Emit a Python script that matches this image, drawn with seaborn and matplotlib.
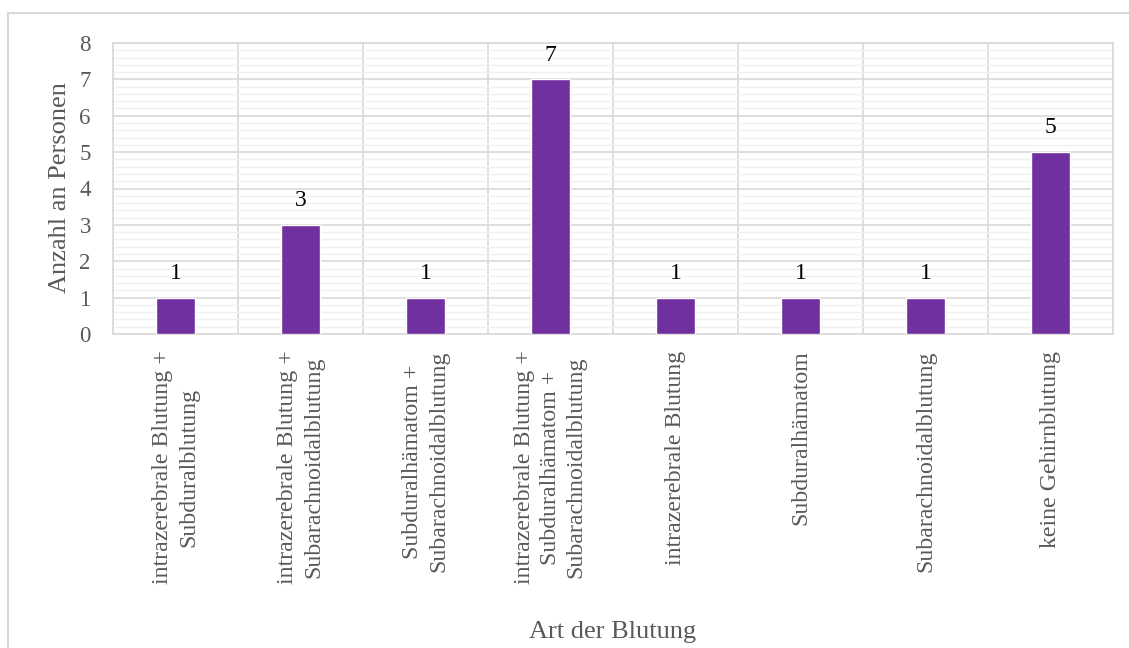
import matplotlib
matplotlib.use("Agg")
import matplotlib.pyplot as plt
import seaborn as sns
import numpy as np
import pandas as pd
from matplotlib.patches import Rectangle

categories = [
    "intrazerebrale Blutung +\nSubduralblutung",
    "intrazerebrale Blutung +\nSubarachnoidalblutung",
    "Subduralhämatom +\nSubarachnoidalblutung",
    "intrazerebrale Blutung +\nSubduralhämatom +\nSubarachnoidalblutung",
    "intrazerebrale Blutung",
    "Subduralhämatom",
    "Subarachnoidalblutung",
    "keine Gehirnblutung",
]
counts = [1, 3, 1, 7, 1, 1, 1, 5]
yticks = [0, 1, 2, 3, 4, 5, 6, 7, 8]

sns.set_theme(style="white")
plt.rcParams["font.family"] = ["Liberation Serif", "DejaVu Serif"]

W, H = 1129, 648
fig = plt.figure(figsize=(W / 100, H / 100), dpi=100)
ax = fig.add_axes([113 / W, 1 - 334 / H, 1000 / W, 291 / H])

df = pd.DataFrame({"cat": categories, "n": counts})
sns.barplot(data=df, x="cat", y="n", color="#7030A0", saturation=1, width=0.31, ax=ax, zorder=3)

n = len(categories)
ax.set_xlim(-0.5, n - 0.5)
ax.set_ylim(0, 8)
ax.set_yticks(yticks)
ax.set_yticks(np.arange(0, 8.001, 0.2), minor=True)
ax.set_xticks(np.arange(n + 1) - 0.5, minor=True)

ax.grid(which="major", axis="y", color="#d9d9d9", lw=1.2, zorder=1)
ax.grid(which="minor", axis="y", color="#f0f0f0", lw=1.0, zorder=0)
ax.grid(which="minor", axis="x", color="#d9d9d9", lw=1.2, zorder=1)
ax.grid(which="major", axis="x", visible=False)
ax.set_axisbelow(True)

for s in ax.spines.values():
    s.set_visible(True)
    s.set_color("#d9d9d9")
    s.set_linewidth(1.2)

ax.tick_params(axis="both", which="both", length=0)
ax.tick_params(axis="y", labelsize=16.5, labelcolor="#595959", pad=16)
ax.tick_params(axis="x", labelsize=17.2, labelcolor="#595959", pad=12)
for lab in ax.get_xticklabels():
    lab.set_rotation(90)
    lab.set_ha("center")
    lab.set_va("top")
    lab.set_multialignment("center")
    lab.set_linespacing(1.3)

for i, v in enumerate(counts):
    ax.annotate(str(v), (i, v), xytext=(0, 17.5), textcoords="offset points",
                ha="center", va="center", fontsize=17, color="black")

ax.set_xlabel("Art der Blutung", fontsize=19, color="#595959")
ax.set_ylabel("Anzahl an Personen", fontsize=19, color="#595959")
ax.xaxis.set_label_coords(0.5, 1 - (632 - 43) / 291 * 1, transform=ax.transAxes)
ax.xaxis.label.set_va("center")
ax.yaxis.set_label_coords((60 - 113) / 1000, (334 - 188) / 291, transform=ax.transAxes)
ax.yaxis.label.set_va("center")

fig.patches.append(Rectangle((8 / W, -0.1), 1.2, 1 - 13 / H + 0.1, transform=fig.transFigure,
                             fill=False, edgecolor="#d9d9d9", lw=1.5))

fig.savefig("out.png", dpi=100, facecolor="white")
